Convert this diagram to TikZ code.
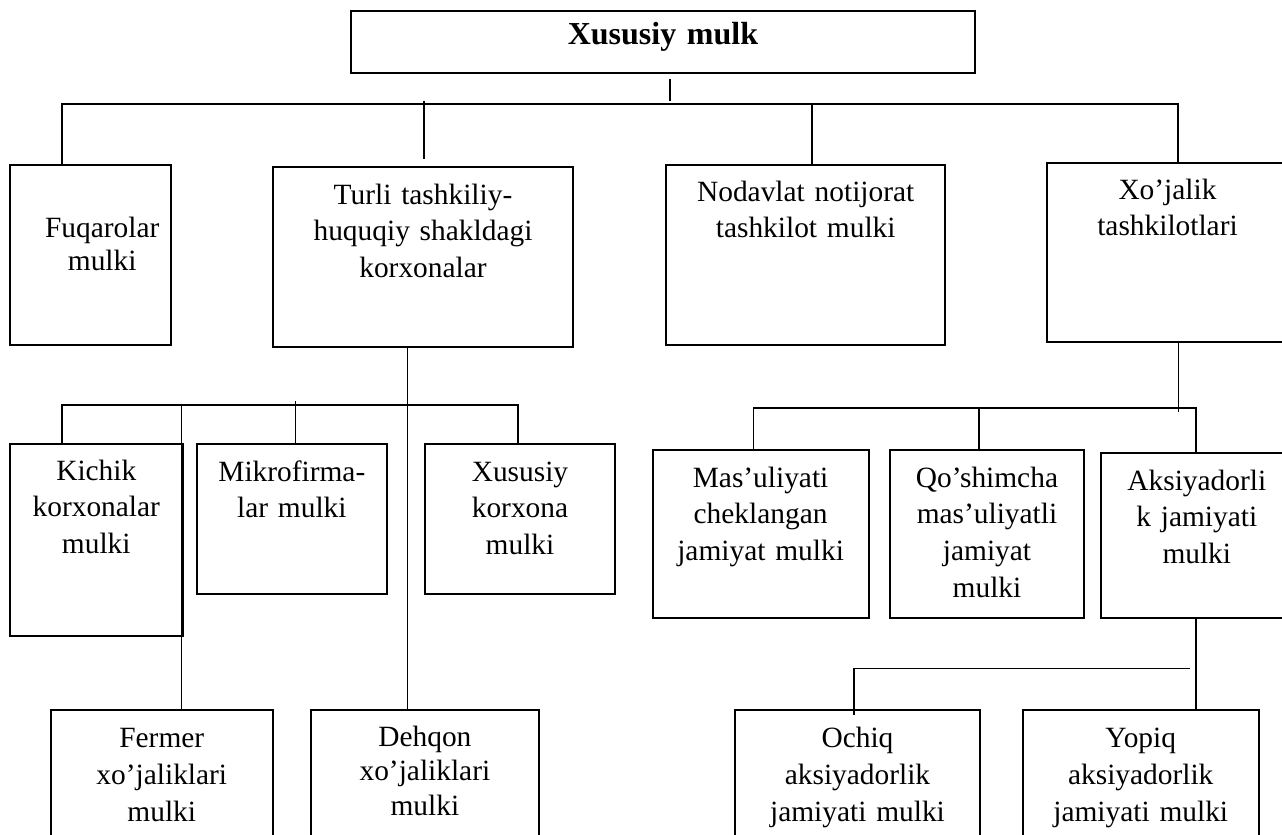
\documentclass[tikz,border=0pt]{standalone}
\usepackage{fontspec}
\setmainfont{Liberation Serif}
\usetikzlibrary{positioning, calc}

\begin{document}
\begin{tikzpicture}[x=0.5pt, y=-0.5pt,
  box/.style={draw, line width=1pt, inner sep=0pt, align=center, anchor=north west,
    font=\fontsize{14.7}{18.35}\selectfont},
  link/.style={line width=0.8pt}]
  \useasboundingbox (0,0) rectangle (1282,835);
  \clip (0,0) rectangle (1282,835);

  % top level
  \node[box, text width=312pt, text height=16.5pt, text depth=14.25pt,
    font=\fontsize{16}{19}\selectfont\bfseries] (top) at (350,10) {Xususiy mulk};
  \node[box, text width=80.3pt, text height=36.5pt, text depth=53.75pt,
    font=\fontsize{14.7}{16.5}\selectfont] (fuq) at (9.4,163.5)
    {\hspace*{11.5pt}Fuqarolar\\\hspace*{11.5pt}mulki};
  \node[box, text width=150pt, text height=18.5pt, text depth=71.5pt] (turli) at (272,166)
    {Turli tashkiliy-\\huquqiy shakldagi\\korxonalar};
  \node[box, text width=139.3pt, text height=18pt, text depth=72pt] (noda) at (665.4,164)
    {Nodavlat notijorat\\tashkilot mulki};
  \node[box, text width=120.5pt, text height=18.15pt, text depth=71.5pt] (xoj) at (1046,161.7)
    {Xo’jalik\\tashkilotlari};

  % korxonalar
  \node[box, text width=86.3pt, text height=18.15pt, text depth=78pt] (kich) at (9,442.7)
    {Kichik\\korxonalar\\mulki};
  \node[box, text width=94.85pt, text height=18.65pt, text depth=56.5pt] (mikro) at (196,442.7)
    {Mikrofirma-\\lar mulki};
  \node[box, text width=95pt, text height=18.65pt, text depth=56.5pt] (xkor) at (424,442.7)
    {Xususiy\\korxona\\mulki};
  \node[box, text width=111pt, text height=18.85pt, text depth=60pt] (ferm) at (49.8,709)
    {Fermer\\xo’jaliklari\\mulki};
  \node[box, text width=114.1pt, text height=18pt, text depth=60pt,
    font=\fontsize{14.7}{17.3}\selectfont] (dehq) at (309.8,709)
    {Dehqon\\xo’jaliklari\\mulki};

  % xo'jalik tashkilotlari
  \node[box, text width=108.1pt, text height=18.5pt, text depth=65.35pt] (masu) at (651.5,449)
    {Mas’uliyati\\cheklangan\\jamiyat mulki};
  \node[box, text width=97pt, text height=18.5pt, text depth=65.35pt] (qosh) at (889,449)
    {Qo’shimcha\\mas’uliyatli\\jamiyat\\mulki};
  \node[box, text width=95.8pt, text height=18.5pt, text depth=64pt] (aksi) at (1100,452)
    {Aksiyadorli\\k jamiyati\\mulki};
  \node[box, text width=122.5pt, text height=18.85pt, text depth=60pt] (ochi) at (734,709)
    {Ochiq\\aksiyadorlik\\jamiyati mulki};
  \node[box, text width=117.75pt, text height=18.85pt, text depth=60pt] (yopi) at (1022,709)
    {Yopiq\\aksiyadorlik\\jamiyati mulki};

  % bus points
  \coordinate (bT) at (670,101);
  \coordinate (b1) at (62,104);
  \coordinate (b2) at (424,101);
  \coordinate (b3) at (812,104);
  \coordinate (b4) at (1178,104);
  \coordinate (s1) at (62,405);
  \coordinate (s2) at (181.6,405);
  \coordinate (s3) at (295.5,401);
  \coordinate (s4) at (407.6,405);
  \coordinate (s5) at (518,405);
  \coordinate (x0) at (1178.5,411.7);
  \coordinate (x1) at (753.4,408);
  \coordinate (x2) at (979,408);
  \coordinate (x3) at (1195.7,408);
  \coordinate (a1) at (854,668.3);
  \coordinate (a2) at (1190,668.3);

  % connectors
  \draw[link, shorten <=2.5pt] (top.south -| bT) -- (bT);
  \draw[link] (b1 |- fuq.north) -- (b1) -- (b4) -- (b4 |- xoj.north);
  \draw[link, shorten >=3.5pt] (b2) -- (b2 |- turli.north);
  \draw[link] (b3) -- (b3 |- noda.north);

  \draw[link] (turli.south -| s4) -- (s4 |- dehq.north);
  \draw[link] (s1 |- kich.north) -- (s1) -- (s5) -- (s5 |- xkor.north);
  \draw[link] (s2) -- (s2 |- ferm.north);
  \draw[link] (s3) -- (s3 |- mikro.north);

  \draw[link] (xoj.south -| x0) -- (x0);
  \draw[link] (x1 |- masu.north) -- (x1) -- (x3) -- (x3 |- aksi.north);
  \draw[link] (x2) -- (x2 |- qosh.north);

  \draw[link] (aksi.south -| x3) -- (x3 |- yopi.north);
  \draw[link, shorten >=-3pt] (a2) -- (a1) -- (a1 |- ochi.north);
\end{tikzpicture}
\end{document}
